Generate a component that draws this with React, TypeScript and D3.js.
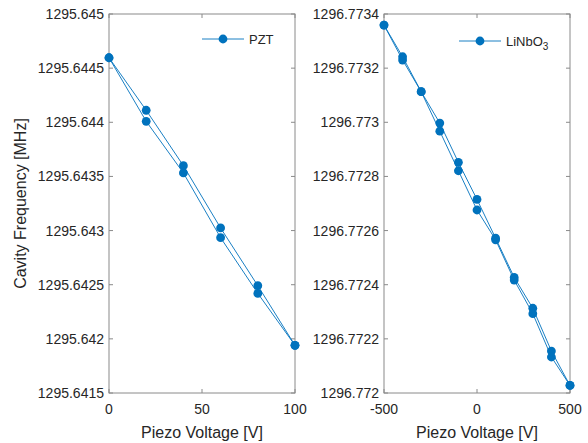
import React from "react";
import * as d3 from "d3";

const pztVoltage = [0, 20, 40, 60, 80, 100];
const pztUp = [1295.644596, 1295.644111, 1295.643599, 1295.643024, 1295.642491, 1295.64194];
const pztDown = [1295.644596, 1295.644009, 1295.643532, 1295.642934, 1295.64242, 1295.64194];
const pztYTicks = [1295.6415, 1295.642, 1295.6425, 1295.643, 1295.6435, 1295.644, 1295.6445, 1295.645];
const pztXTicks = [0, 50, 100];

const lnVoltage = [-500, -400, -300, -200, -100, 0, 100, 200, 300, 400, 500];
const lnUp = [1296.773359, 1296.773242, 1296.773113, 1296.772997, 1296.772852, 1296.772715, 1296.772572, 1296.772427, 1296.772313, 1296.772155, 1296.772028];
const lnDown = [1296.773359, 1296.77323, 1296.773113, 1296.772967, 1296.772821, 1296.772676, 1296.772566, 1296.772417, 1296.772293, 1296.772133, 1296.772028];
const lnYTicks = [1296.772, 1296.7722, 1296.7724, 1296.7726, 1296.7728, 1296.773, 1296.7732, 1296.7734];
const lnXTicks = [-500, 0, 500];

const BLUE = "#0072BD";
const AXIS = "#8a8a8a";
const TEXT = "#262626";
const FONT = "'Liberation Sans', Arial, sans-serif";

type PanelProps = {
  left: number;
  right: number;
  top: number;
  bottom: number;
  xDomain: [number, number];
  yDomain: [number, number];
  xTicks: number[];
  yTicks: number[];
  xs: number[];
  series: number[][];
  legend: React.ReactNode;
  legendX: number;
  legendY: number;
  yDigits: (v: number) => string;
};

function Panel(p: PanelProps) {
  const x = d3.scaleLinear().domain(p.xDomain).range([p.left, p.right]);
  const y = d3.scaleLinear().domain(p.yDomain).range([p.bottom, p.top]);
  const line = d3
    .line<number>()
    .x((_, i) => x(p.xs[i]))
    .y((d) => y(d));
  const tl = 4;
  return (
    <g>
      <rect x={p.left} y={p.top} width={p.right - p.left} height={p.bottom - p.top} fill="white" stroke={AXIS} strokeWidth={1} />
      {p.xTicks.map((t) => (
        <g key={"x" + t}>
          <line x1={x(t)} x2={x(t)} y1={p.bottom} y2={p.bottom - tl} stroke={AXIS} />
          <line x1={x(t)} x2={x(t)} y1={p.top} y2={p.top + tl} stroke={AXIS} />
          <text x={x(t)} y={p.bottom + 21} textAnchor="middle" fontSize={14} fill={TEXT} fontFamily={FONT}>
            {t}
          </text>
        </g>
      ))}
      {p.yTicks.map((t) => (
        <g key={"y" + t}>
          <line x1={p.left} x2={p.left + tl} y1={y(t)} y2={y(t)} stroke={AXIS} />
          <line x1={p.right} x2={p.right - tl} y1={y(t)} y2={y(t)} stroke={AXIS} />
          <text x={p.left - 5} y={y(t) + 5} textAnchor="end" fontSize={14} fill={TEXT} fontFamily={FONT}>
            {p.yDigits(t)}
          </text>
        </g>
      ))}
      {p.series.map((s, i) => (
        <path key={"l" + i} d={line(s) || ""} fill="none" stroke={BLUE} strokeWidth={0.9} />
      ))}
      {p.series.map((s, i) =>
        s.map((v, j) => <circle key={"c" + i + "-" + j} cx={x(p.xs[j])} cy={y(v)} r={4.4} fill={BLUE} />)
      )}
      <g>
        <line x1={p.legendX} x2={p.legendX + 42} y1={p.legendY} y2={p.legendY} stroke={BLUE} strokeWidth={0.9} />
        <circle cx={p.legendX + 21} cy={p.legendY} r={4.4} fill={BLUE} />
        <text x={p.legendX + 47} y={p.legendY + 4.5} fontSize={13} fill={TEXT} fontFamily={FONT}>
          {p.legend}
        </text>
      </g>
      <text x={(p.left + p.right) / 2} y={p.bottom + 45} textAnchor="middle" fontSize={16} fill={TEXT} fontFamily={FONT}>
        Piezo Voltage [V]
      </text>
    </g>
  );
}

export default function App() {
  const top = 14;
  const bottom = 393;
  return (
    <svg width={588} height={443} style={{ display: "block", position: "absolute", left: 0, top: 0 }}>
      <rect width={588} height={443} fill="white" />
      <Panel
        left={109}
        right={295}
        top={top}
        bottom={bottom}
        xDomain={[0, 100]}
        yDomain={[1295.6415, 1295.645]}
        xTicks={pztXTicks}
        yTicks={pztYTicks}
        xs={pztVoltage}
        series={[pztUp, pztDown]}
        legend="PZT"
        legendX={202}
        legendY={39}
        yDigits={(v) => d3.format(".7~f")(v)}
      />
      <Panel
        left={384}
        right={570}
        top={top}
        bottom={bottom}
        xDomain={[-500, 500]}
        yDomain={[1296.772, 1296.7734]}
        xTicks={lnXTicks}
        yTicks={lnYTicks}
        xs={lnVoltage}
        series={[lnUp, lnDown]}
        legend={
          <>
            LiNbO
            <tspan dy={4} fontSize={10}>
              3
            </tspan>
          </>
        }
        legendX={459}
        legendY={41}
        yDigits={(v) => d3.format(".7~f")(v)}
      />
      <text
        transform={`translate(26,${(top + bottom) / 2}) rotate(-90)`}
        textAnchor="middle"
        fontSize={16}
        fill={TEXT}
        fontFamily={FONT}
      >
        Cavity Frequency [MHz]
      </text>
    </svg>
  );
}
